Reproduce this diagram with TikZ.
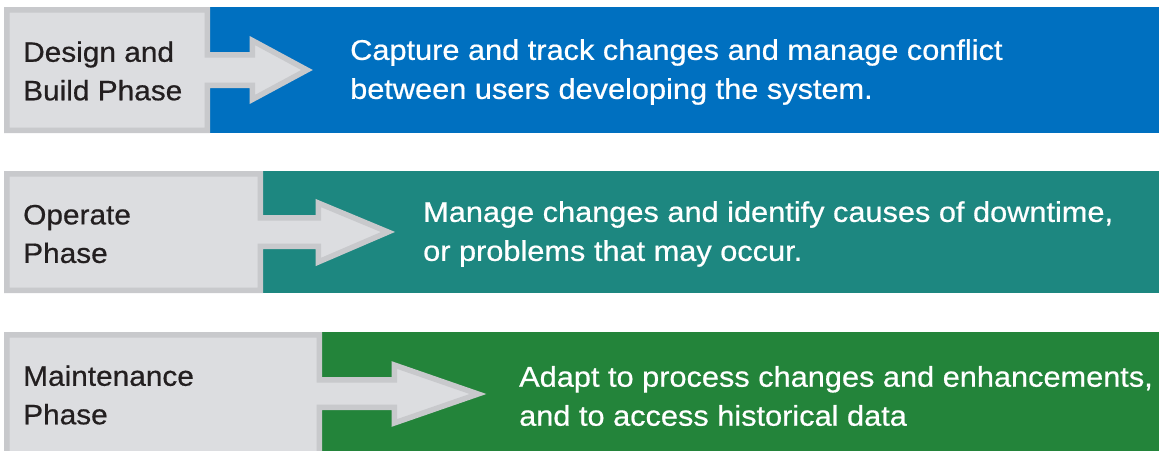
\documentclass[tikz,border=0pt]{standalone}
\usepackage{fontspec}
\setmainfont{Liberation Sans}
\newfontfamily\labfont{Liberation Sans}[FakeStretch=1.065,FakeBold=0.6]
\newfontfamily\descfont{Liberation Sans}[FakeStretch=1.078,FakeBold=0.6]
\definecolor{bandblue}{RGB}{0,112,192}
\definecolor{bandteal}{RGB}{29,135,128}
\definecolor{bandgreen}{RGB}{35,132,58}
\definecolor{boxfill}{RGB}{220,221,224}
\definecolor{boxline}{RGB}{200,201,204}
\definecolor{labtext}{RGB}{35,31,32}
\begin{document}
\begin{tikzpicture}[x=1pt,y=-1pt,
  phasebox/.style={fill=boxfill,draw=boxline,line width=5.5pt,line join=miter},
  labeltext/.style={anchor=west,inner sep=0pt,align=left,text=labtext,font=\labfont\fontsize{28}{38.5}\selectfont},
  desctext/.style={anchor=west,inner sep=0pt,align=left,text=white,font=\descfont\fontsize{28.5}{39}\selectfont}]
\useasboundingbox (0,0) rectangle (1159,450);
\clip (0,0) rectangle (1159,450);
% bands
\fill[bandblue]  (209,7)   rectangle (1159,133);
\fill[bandteal]  (262,171) rectangle (1159,293);
\fill[bandgreen] (321,332) rectangle (1159,456);
% phase boxes with arrows
\draw[phasebox] (6.75,9.75) -- (207.25,9.75) -- (207.25,54.75) -- (252.25,54.75) -- (252.25,40.5)
  -- (307,70) -- (252.25,99.5) -- (252.25,85.25) -- (207.25,85.25) -- (207.25,130.25) -- (6.75,130.25) -- cycle;
\draw[phasebox] (6.75,173.75) -- (260.25,173.75) -- (260.25,217.75) -- (318.25,217.75) -- (318.25,203)
  -- (388,232) -- (318.25,262) -- (318.25,246.25) -- (260.25,246.25) -- (260.25,290.25) -- (6.75,290.25) -- cycle;
\draw[phasebox] (6.75,334.75) -- (319.25,334.75) -- (319.25,379.75) -- (394.25,379.75) -- (394.25,365)
  -- (478,394) -- (394.25,423) -- (394.25,407.25) -- (319.25,407.25) -- (319.25,460) -- (6.75,460) -- cycle;
% labels
\node[labeltext] (lab1) at (23,71) {Design and\\Build Phase};
\node[labeltext] (lab2) at (23,234) {Operate\\Phase};
\node[labeltext] (lab3) at (23,395) {Maintenance\\Phase};
\node[desctext] (txt1) at (350,72) {Capture and track changes and manage conflict\\between users developing the system.};
\node[desctext] (txt2) at (423,234) {Manage changes and identify causes of downtime,\\or problems that may occur.};
\node[desctext] (txt3) at (519,396) {Adapt to process changes and enhancements,\\and to access historical data};
\end{tikzpicture}
\end{document}
